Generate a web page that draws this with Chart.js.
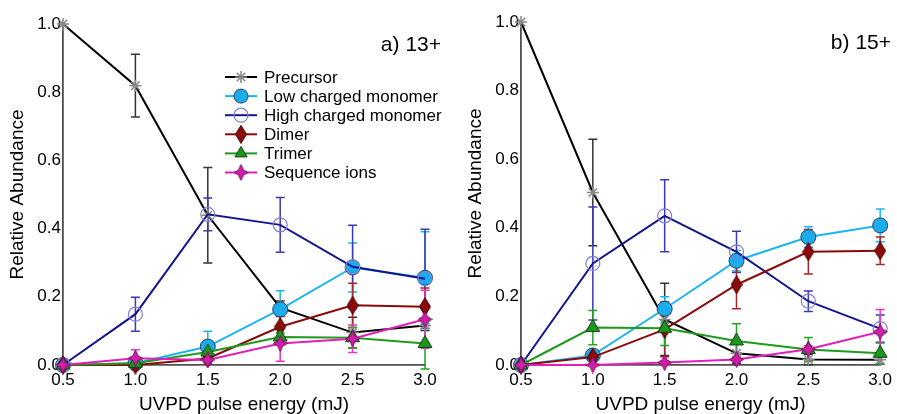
<!DOCTYPE html>
<html><head><meta charset="utf-8">
<script src="https://cdn.jsdelivr.net/npm/chart.js@4/dist/chart.umd.min.js"></script>
<style>
html,body{margin:0;padding:0;background:#fff;}
#wrap{position:relative;width:897px;height:414px;overflow:hidden;background:#fff;}
#ca{position:absolute;left:0;top:0;}
#cb{position:absolute;left:450px;top:0;}
</style></head><body>
<div id="wrap"><canvas id="ca" width="450" height="414"></canvas><canvas id="cb" width="447" height="414"></canvas></div>
<script>
// ---------- data ----------
const energies = [0.5, 1.0, 1.5, 2.0, 2.5, 3.0];
const xTickValues = [0.5, 1.0, 1.5, 2.0, 2.5, 3.0];
const yTickValues = [0.0, 0.2, 0.4, 0.6, 0.8, 1.0];
const seriesNames = ['Precursor', 'Low charged monomer', 'High charged monomer', 'Dimer', 'Trimer', 'Sequence ions'];
const panelLabels = ['a) 13+', 'b) 15+'];
const xTitle = 'UVPD pulse energy (mJ)';
const yTitle = 'Relative Abundance';

// panel a) 13+
const aPrecursor    = [1.0, 0.819, 0.439, 0.168, 0.095, 0.116];
const aPrecursorErr = [0, 0.092, 0.14, 0.02, 0.045, 0.015];
const aLow          = [0, 0.005, 0.054, 0.163, 0.286, 0.256];
const aLowErr       = [0, 0, 0.045, 0.055, 0.072, 0.135];
const aHigh         = [0, 0.149, 0.442, 0.411, 0.288, 0.253];
const aHighErr      = [0, 0.05, 0.048, 0.08, 0.122, 0.145];
const aDimer        = [0, 0, 0.019, 0.112, 0.175, 0.171];
const aDimerErr     = [0, 0, 0.008, 0.03, 0.065, 0.055];
const aTrimer       = [0, 0.005, 0.038, 0.082, 0.08, 0.063];
const aTrimerErr    = [0, 0, 0.01, 0.012, 0.03, 0.075];
const aSeq          = [0, 0.02, 0.015, 0.063, 0.077, 0.134];
const aSeqErr       = [0, 0.025, 0.01, 0.052, 0.04, 0.085];

// panel b) 15+
const bPrecursor    = [1.0, 0.503, 0.133, 0.034, 0.016, 0.015];
const bPrecursorErr = [0, 0.155, 0.105, 0.03, 0.015, 0.012];
const bLow          = [0, 0.028, 0.164, 0.304, 0.373, 0.407];
const bLowErr       = [0, 0, 0.035, 0.03, 0.03, 0.048];
const bHigh         = [0, 0.296, 0.435, 0.33, 0.186, 0.106];
const bHighErr      = [0, 0.165, 0.105, 0.06, 0.03, 0.04];
const bDimer        = [0, 0.023, 0.104, 0.234, 0.33, 0.333];
const bDimerErr     = [0, 0, 0.08, 0.07, 0.065, 0.04];
const bTrimer       = [0, 0.109, 0.107, 0.07, 0.045, 0.034];
const bTrimerErr    = [0, 0.05, 0.05, 0.05, 0.035, 0.03];
const bSeq          = [0, 0, 0.007, 0.016, 0.046, 0.097];
const bSeqErr       = [0, 0, 0.005, 0.008, 0.01, 0.065];

// ---------- styles ----------
const FONT = "'Liberation Sans', Arial, Helvetica, sans-serif";

function makeMarker(w, h, draw) {
  const c = document.createElement('canvas');
  c.width = w; c.height = h;
  draw(c.getContext('2d'));
  return c;
}
const diamondMarker = makeMarker(12, 19, g => {
  g.beginPath();
  g.moveTo(6, 0.5); g.lineTo(11.5, 9.5); g.lineTo(6, 18.5); g.lineTo(0.5, 9.5); g.closePath();
  g.fillStyle = '#8B0A0A'; g.fill();
  g.lineWidth = 1; g.strokeStyle = '#4a0000'; g.stroke();
});
const starMarker = makeMarker(15, 17, g => {
  g.beginPath();
  g.moveTo(7.5, 0.5); g.lineTo(10, 6); g.lineTo(14.5, 8.5); g.lineTo(10, 11);
  g.lineTo(7.5, 16.5); g.lineTo(5, 11); g.lineTo(0.5, 8.5); g.lineTo(5, 6); g.closePath();
  g.fillStyle = '#D01EA8'; g.fill();
  g.lineWidth = 1; g.strokeStyle = '#7a1060'; g.stroke();
});

const styles = [
  { line: '#000000', err: '#333333', pointStyle: 'star', radius: 6, fill: '#888888', border: '#888888', bw: 1.5, order: 6 },
  { line: '#1EB4F0', err: '#1EB4F0', pointStyle: 'circle', radius: 7.5, fill: '#1AACEB', border: '#2d3f66', bw: 1, order: 5 },
  { line: '#14148F', err: '#3a3ab4', pointStyle: 'circle', radius: 7, fill: 'rgba(255,255,255,0)', border: '#7f7fd8', bw: 1.2, order: 4 },
  { line: '#8B0A0A', err: '#a52828', pointStyle: diamondMarker, radius: 7, fill: '#8B0A0A', border: '#4a0000', bw: 1, order: 3 },
  { line: '#1E9A1E', err: '#22a522', pointStyle: 'triangle', radius: 8, fill: '#1E961E', border: '#124412', bw: 1, order: 2 },
  { line: '#E020B8', err: '#e535c4', pointStyle: starMarker, radius: 7, fill: '#D01EA8', border: '#7a1060', bw: 1, order: 1 }
];

function buildDatasets(values, errs) {
  return values.map((vals, i) => {
    const s = styles[i];
    return {
      label: seriesNames[i],
      data: energies.map((x, j) => ({ x: x, y: vals[j] })),
      errors: errs[i],
      errColor: s.err,
      borderColor: s.line,
      borderWidth: 2,
      pointStyle: s.pointStyle,
      pointRadius: s.radius,
      pointBackgroundColor: s.fill,
      pointBorderColor: s.border,
      pointBorderWidth: s.bw,
      fill: false,
      tension: 0,
      clip: false,
      order: s.order
    };
  });
}

const errorBarPlugin = {
  id: 'errorBars',
  beforeDatasetsDraw(chart) {
    const ctx = chart.ctx;
    const xs = chart.scales.x, ys = chart.scales.y;
    ctx.save();
    chart.data.datasets.forEach(ds => {
      ctx.strokeStyle = ds.errColor;
      ctx.lineWidth = 1.5;
      ds.data.forEach((p, j) => {
        const e = ds.errors[j];
        if (!e) return;
        const x = xs.getPixelForValue(p.x);
        const y1 = ys.getPixelForValue(p.y + e);
        const y2 = ys.getPixelForValue(p.y - e);
        ctx.beginPath();
        ctx.moveTo(x, y1); ctx.lineTo(x, y2);
        ctx.moveTo(x - 4.5, y1); ctx.lineTo(x + 4.5, y1);
        ctx.moveTo(x - 4.5, y2); ctx.lineTo(x + 4.5, y2);
        ctx.stroke();
      });
    });
    ctx.restore();
  }
};

const annotPlugin = {
  id: 'annot',
  afterDraw(chart, args, opts) {
    const ctx = chart.ctx;
    ctx.save();
    ctx.fillStyle = '#000';
    ctx.font = '21px ' + FONT;
    ctx.textAlign = 'right';
    ctx.textBaseline = 'middle';
    ctx.fillText(opts.label, opts.labelX, opts.labelY);
    if (opts.legend) {
      const lg = opts.legend;
      ctx.font = '17px ' + FONT;
      ctx.textAlign = 'left';
      chart.data.datasets.forEach((ds, i) => {
        const y = lg.y + i * lg.dy;
        ctx.strokeStyle = ds.borderColor;
        ctx.lineWidth = 2;
        ctx.beginPath(); ctx.moveTo(lg.x0, y); ctx.lineTo(lg.x1, y); ctx.stroke();
        ctx.fillStyle = ds.pointBackgroundColor;
        ctx.strokeStyle = ds.pointBorderColor;
        ctx.lineWidth = ds.pointBorderWidth;
        Chart.helpers.drawPoint(ctx, {
          pointStyle: ds.pointStyle, radius: Math.min(ds.pointRadius, 7), rotation: 0, borderWidth: ds.pointBorderWidth
        }, (lg.x0 + lg.x1) / 2, y);
        ctx.fillStyle = '#000';
        ctx.fillText(ds.label, lg.tx, y + 1);
      });
    }
    ctx.restore();
  }
};

function makeChart(canvas, datasets, cfg) {
  return new Chart(canvas, {
    type: 'line',
    data: { datasets: datasets },
    plugins: [errorBarPlugin, annotPlugin],
    options: {
      responsive: false,
      animation: false,
      events: [],
      layout: { padding: { top: cfg.top, right: cfg.right, left: 0, bottom: 0 } },
      plugins: {
        legend: { display: false },
        tooltip: { enabled: false },
        annot: cfg.annot
      },
      scales: {
        x: {
          type: 'linear', min: 0.5, max: 3.0,
          afterBuildTicks: s => { s.ticks = xTickValues.map(v => ({ value: v })); },
          afterFit: s => { s.height = 414 - cfg.bottom; },
          ticks: { color: '#000', font: { family: FONT, size: 17 }, padding: 5, maxRotation: 0,
                   callback: v => Number(v).toFixed(1) },
          grid: { display: false, drawTicks: false },
          border: { display: true, color: '#505050', width: 1.8 },
          title: { display: true, text: xTitle, color: '#000',
                   font: { family: FONT, size: 19, lineHeight: 1 }, padding: { top: 0, bottom: 0 } }
        },
        y: {
          type: 'linear', min: 0, max: 1,
          afterBuildTicks: s => { s.ticks = yTickValues.map(v => ({ value: v })); },
          afterFit: s => { s.width = cfg.left; },
          ticks: { color: '#000', font: { family: FONT, size: 17 }, padding: 2,
                   callback: v => Number(v).toFixed(1) },
          grid: { display: false, drawTicks: false },
          border: { display: true, color: '#505050', width: 1.8 },
          title: { display: true, text: yTitle, color: '#000',
                   font: { family: FONT, size: 19, lineHeight: 1.2 }, padding: { top: cfg.yTitlePad, bottom: 0 } }
        }
      }
    }
  });
}

makeChart(document.getElementById('ca'),
  buildDatasets([aPrecursor, aLow, aHigh, aDimer, aTrimer, aSeq],
                [aPrecursorErr, aLowErr, aHighErr, aDimerErr, aTrimerErr, aSeqErr]),
  { top: 24, right: 25, left: 63, bottom: 365, yTitlePad: 6,
    annot: { label: panelLabels[0], labelX: 441, labelY: 45,
             legend: { x0: 225, x1: 257, tx: 264, y: 77, dy: 19.1 } } });

makeChart(document.getElementById('cb'),
  buildDatasets([bPrecursor, bLow, bHigh, bDimer, bTrimer, bSeq],
                [bPrecursorErr, bLowErr, bHighErr, bDimerErr, bTrimerErr, bSeqErr]),
  { top: 22, right: 14, left: 71, bottom: 365, yTitlePad: 14,
    annot: { label: panelLabels[1], labelX: 441, labelY: 43 } });
</script>
</body></html>
